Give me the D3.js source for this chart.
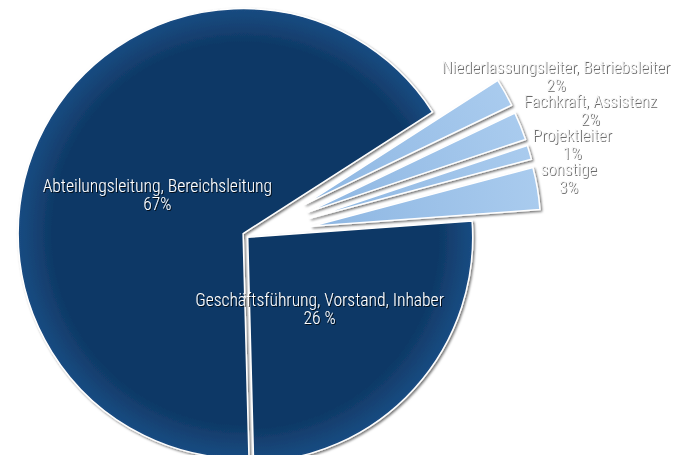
<!DOCTYPE html>
<html>
<head>
<meta charset="utf-8">
<script src="https://cdn.jsdelivr.net/npm/d3@7"></script>
<style>
  body { margin: 0; background: #fff; }
  text { font-family: "Roboto Condensed", "Liberation Sans Narrow", sans-serif; font-weight: 300; }
</style>
</head>
<body>
<div id="chart"></div>
<script>
// global const
const width = 678, height = 455;
const center = { x: 244, y: 234 };
const radius = 225;
const smallRadius = 229;

// data (clockwise order as drawn)
const categories = [
  "Abteilungsleitung, Bereichsleitung",
  "Niederlassungsleiter, Betriebsleiter",
  "Fachkraft, Assistenz",
  "Projektleiter",
  "sonstige",
  "Geschäftsführung, Vorstand, Inhaber"
];
const values = [67, 2, 2, 1, 3, 26];
const valueLabels = ["67%", "2%", "2%", "1%", "3%", "26 %"];
const small = [false, true, true, true, true, false];

const colors = { dark: "#0f3966", darkEdge: "#1a4c82", light: "#8db6e2", lightEdge: "#a9cbee" };

const svg = d3.select("#chart")
  .append("svg")
  .attr("width", width)
  .attr("height", height);

const defs = svg.append("defs");

const darkGrad = defs.append("radialGradient")
  .attr("id", "dark-grad")
  .attr("gradientUnits", "userSpaceOnUse")
  .attr("cx", 0).attr("cy", 0).attr("r", radius);
darkGrad.append("stop").attr("offset", "0%").attr("stop-color", colors.dark);
darkGrad.append("stop").attr("offset", "85%").attr("stop-color", colors.dark);
darkGrad.append("stop").attr("offset", "100%").attr("stop-color", colors.darkEdge);

const lightGrad = defs.append("radialGradient")
  .attr("id", "light-grad")
  .attr("gradientUnits", "userSpaceOnUse")
  .attr("cx", 0).attr("cy", 0).attr("r", smallRadius);
lightGrad.append("stop").attr("offset", "0%").attr("stop-color", colors.light);
lightGrad.append("stop").attr("offset", "100%").attr("stop-color", colors.lightEdge);

const sliceShadow = defs.append("filter")
  .attr("id", "slice-shadow")
  .attr("x", "-20%").attr("y", "-20%").attr("width", "140%").attr("height", "140%");
sliceShadow.append("feDropShadow")
  .attr("dx", 1.5).attr("dy", 1.5).attr("stdDeviation", 1.2)
  .attr("flood-color", "#000").attr("flood-opacity", 0.55);

const darkText = defs.append("filter").attr("id", "text-dark");
darkText.append("feDropShadow")
  .attr("dx", 1).attr("dy", 1).attr("stdDeviation", 0.4)
  .attr("flood-color", "#000").attr("flood-opacity", 0.75);

const greyText = defs.append("filter").attr("id", "text-grey");
greyText.append("feMorphology").attr("in", "SourceAlpha").attr("operator", "dilate").attr("radius", 0.4).attr("result", "thick");
greyText.append("feOffset").attr("in", "thick").attr("dx", 0.7).attr("dy", 0.7).attr("result", "off");
greyText.append("feFlood").attr("flood-color", "#6a6a6a");
greyText.append("feComposite").attr("in2", "off").attr("operator", "in").attr("result", "shadow");
const gm = greyText.append("feMerge");
gm.append("feMergeNode").attr("in", "shadow");
gm.append("feMergeNode").attr("in", "SourceGraphic");

const toRad = deg => deg * Math.PI / 180;

const pie = d3.pie()
  .sort(null)
  .value(d => d)
  .startAngle(toRad(-181.5))
  .endAngle(toRad(178.5));

const arcs = pie(values);

const bigArc = d3.arc().innerRadius(0).outerRadius(radius);
const smallArc = d3.arc().innerRadius(0).outerRadius(smallRadius);

// how far each slice is pulled out of the pie
const explode = i => small[i] ? 68 : (i === 0 ? 1 : 5);

const offset = (d, i) => {
  const mid = (d.startAngle + d.endAngle) / 2 + (small[i] ? toRad(3) : 0);
  const e = explode(i);
  return [center.x + Math.sin(mid) * e, center.y - Math.cos(mid) * e];
};

const slices = svg.append("g")
  .selectAll("g")
  .data(arcs)
  .join("g")
  .attr("transform", (d, i) => {
    const [x, y] = offset(d, i);
    return `translate(${x},${y})`;
  });

slices.append("path")
  .attr("d", (d, i) => small[i] ? smallArc(d) : bigArc(d))
  .attr("fill", (d, i) => small[i] ? "url(#light-grad)" : "url(#dark-grad)")
  .attr("stroke", "#fff")
  .attr("stroke-width", 1.5)
  .attr("stroke-linejoin", "round")
  .attr("filter", "url(#slice-shadow)");

// labels inside the big slices
const innerLabelArc = d3.arc().innerRadius(97).outerRadius(97);
const smallSize = 17, bigSize = 17.5;
const lineGap = 18;

const labels = svg.append("g")
  .selectAll("text")
  .data(arcs)
  .join("text")
  .attr("text-anchor", "middle")
  .attr("font-size", (d, i) => small[i] ? smallSize : bigSize)
  .attr("fill", (d, i) => small[i] ? "#f4f4f4" : "#fff")
  .attr("filter", (d, i) => small[i] ? "url(#text-grey)" : "url(#text-dark)");

labels.append("tspan")
  .attr("class", "name")
  .attr("x", 0)
  .attr("dy", (d, i) => small[i] ? 0 : 2)
  .text((d, i) => categories[i]);

labels.append("tspan")
  .attr("x", 0)
  .attr("dy", lineGap)
  .text((d, i) => valueLabels[i]);

// place labels: big ones in the slice, small ones at the outer end, pushed down to avoid overlap
let prevBottom = -Infinity;
labels.each(function(d, i) {
  const [ox, oy] = offset(d, i);
  const sel = d3.select(this);
  if (!small[i]) {
    const [cx, cy] = innerLabelArc.centroid(d);
    sel.attr("transform", `translate(${ox + cx},${oy + cy + 2})`);
    return;
  }
  const w = sel.select(".name").node().getComputedTextLength();
  const mid = (d.startAngle + d.endAngle) / 2;
  const endX = ox + Math.sin(mid) * smallRadius;
  const endY = oy - Math.cos(mid) * smallRadius;
  let second = endY - 2;
  const top = second - lineGap - 12;
  if (top < prevBottom) {
    second += prevBottom - top;
  }
  prevBottom = second + 4;
  const x = Math.min(endX + 3 + w / 2, width - 8 - w / 2);
  sel.attr("transform", `translate(${x},${second - lineGap})`);
});
</script>
</body>
</html>
